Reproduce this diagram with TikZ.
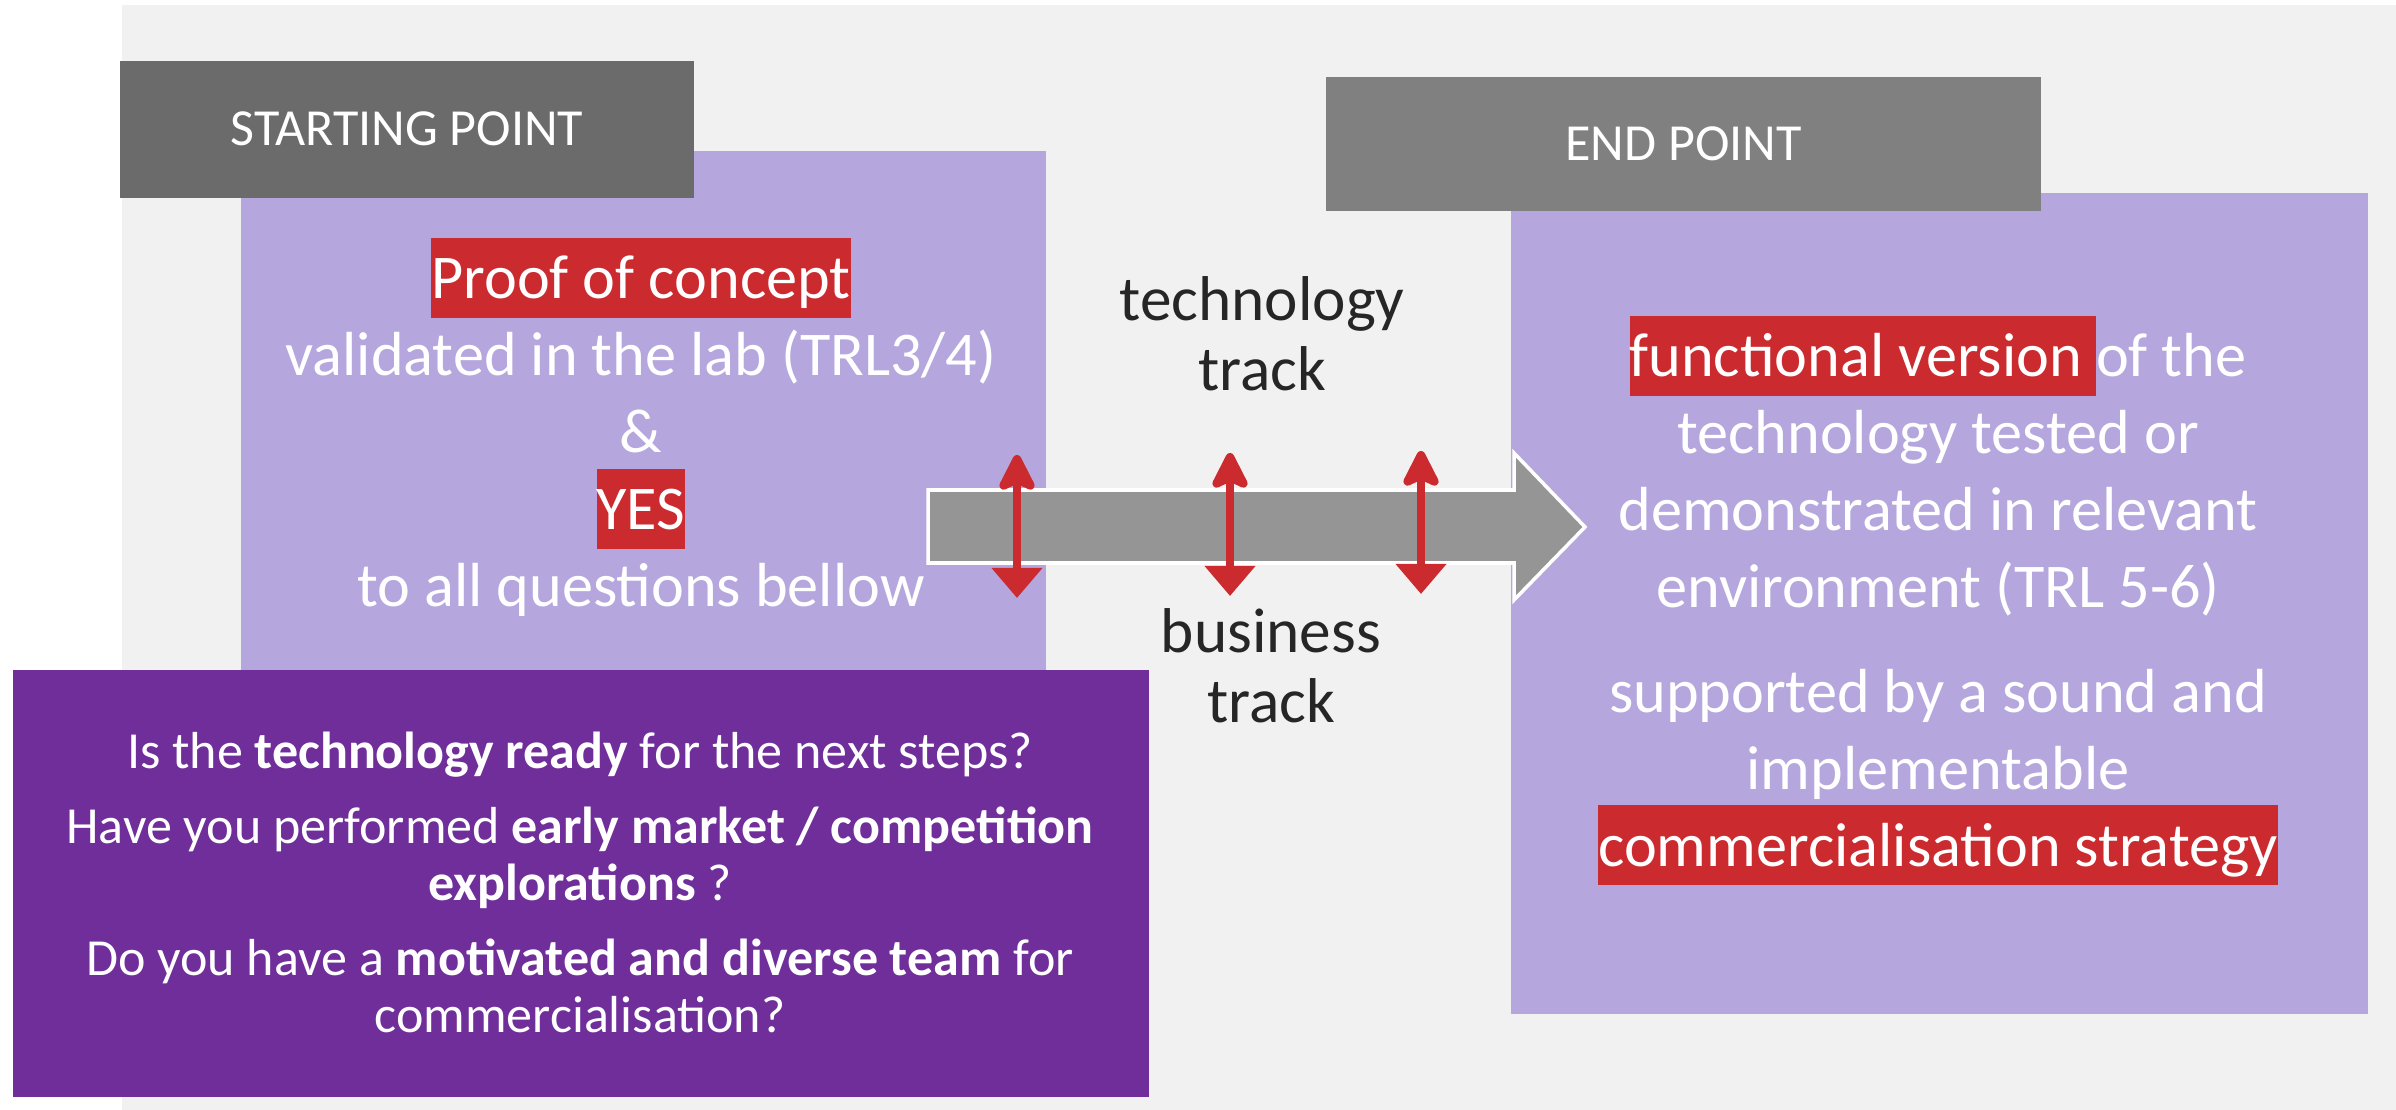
\documentclass[tikz,border=0pt]{standalone}
\usepackage{fontspec}
\setmainfont{Carlito}
\usepackage{xcolor}
\usepackage{tikz}
\usetikzlibrary{arrows.meta,positioning,calc}
\definecolor{lavender-box}{HTML}{B5A7DD}
\definecolor{deep-purple}{HTML}{6F2E9A}
\definecolor{hl-red}{HTML}{CB2B2E}
\definecolor{bg-gray}{HTML}{F1F1F1}
\definecolor{start-gray}{HTML}{6B6B6B}
\definecolor{end-gray}{HTML}{808080}
\definecolor{flow-gray}{HTML}{959595}
\definecolor{ink}{HTML}{262626}
\newcommand{\hlstrut}{\rule[-5.4pt]{0pt}{22.8pt}}
\newcommand{\redmark}[1]{{\setlength{\fboxsep}{0pt}\colorbox{hl-red}{\hlstrut#1}}}
\newcommand{\topstrut}[1]{\rule{0pt}{#1}}

\begin{document}
\begin{tikzpicture}[x=0.01cm, y=-0.01cm,
    panel/.style = {shape=rectangle, fill=lavender-box, anchor=north west,
      inner sep=0pt},
    header/.style = {shape=rectangle, anchor=north west, inner sep=0pt,
      text=white, font=\fontsize{14.8}{17}\selectfont},
    questions/.style = {shape=rectangle, fill=deep-purple, anchor=north west,
      inner sep=0pt, minimum width=11.36cm, minimum height=4.27cm},
    blurb/.style = {anchor=north, inner sep=0pt, align=center, text=white,
      font=\fontsize{17.7}{21.9}\selectfont},
    tracklabel/.style = {anchor=north, inner sep=0pt, align=center, text=ink,
      font=\fontsize{18}{19.9}\selectfont},
    link/.style = {{Triangle[width=4.9mm,length=3mm]}-{Stealth[width=4.4mm,length=4.4mm,inset=1mm,round]},
      line width=2.5pt, draw=hl-red}]

  \useasboundingbox (0,0) rectangle (2396,1110);
  \fill[bg-gray] (122,5) rectangle (2396,1110);

  \node [panel, minimum width=8.05cm, minimum height=5.3cm] (leftpanel) at (240,150) {};
  \node [panel, minimum width=8.57cm, minimum height=8.21cm] (rightpanel) at (1510,192) {};
  \node [header, fill=start-gray, minimum width=5.74cm, minimum height=1.37cm] (start) at (119,60) {STARTING POINT};
  \node [header, fill=end-gray, minimum width=7.15cm, minimum height=1.34cm] (finish) at (1325,76) {END POINT};

  \node [blurb] (concept) at (641,237) {\redmark{Proof of concept}\\
    validated in the lab (TRL3/4)\\ \&\\ \redmark{YES}\\ to all questions bellow};

  \node [blurb] (outcome) at (1938,315) {\redmark{functional version\ }of the\\
    technology tested or\\ demonstrated in relevant\\ environment (TRL 5-6)\\[7.7pt]
    supported by a sound and\\ implementable\\ \redmark{commercialisation strategy}};

  \node [questions] (checks) at (12,669) {};
  \node [blurb, font=\fontsize{14.8}{16.2}\selectfont] (asks) at (580,726)
    {\topstrut{12pt}Is the \textbf{technology ready} for the next steps?\\[5.1pt]
    Have you performed \textbf{early market / competition}\\ \textbf{explorations} ?\\[5.1pt]
    Do you have a \textbf{motivated and diverse team} for\\ commercialisation?};

  % main flow arrow
  \fill[flow-gray, draw=white, line width=1pt] (928,490) -- (1514,490) -- (1514,453)
    -- (1585,527) -- (1514,600) -- (1514,563) -- (928,563) -- cycle;

  \node [tracklabel] (tech) at (1262,271) {\topstrut{14pt}technology\\ track};
  \node [tracklabel] (biz) at (1271,603) {\topstrut{14pt}business\\ track};

  \foreach \x/\top/\bot/\n in {1017/455/598/a, 1230/453/596/b, 1421/451/594/c} {
    \coordinate (up-\n) at (\x,\top);
    \coordinate (dn-\n) at (\x,\bot);
    \draw [link] (dn-\n) -- (up-\n);
  }
\end{tikzpicture}
\end{document}
